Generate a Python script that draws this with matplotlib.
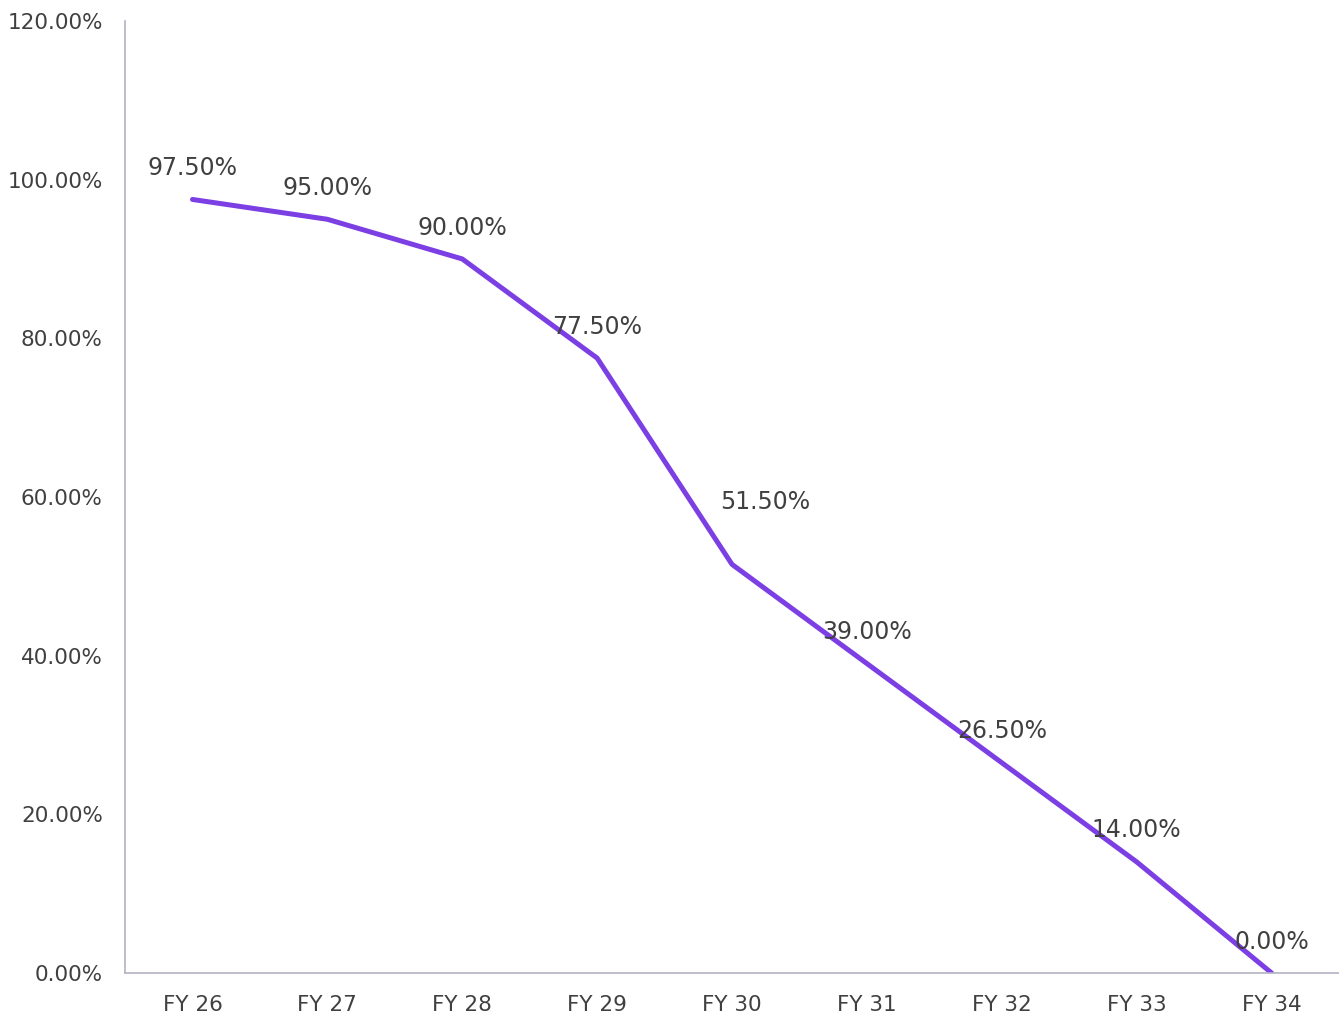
import matplotlib
matplotlib.use("Agg")
import matplotlib.pyplot as plt
from matplotlib.ticker import FuncFormatter

categories = ["FY 26", "FY 27", "FY 28", "FY 29", "FY 30", "FY 31", "FY 32", "FY 33", "FY 34"]
values = [97.5, 95.0, 90.0, 77.5, 51.5, 39.0, 26.5, 14.0, 0.0]
y_ticks = [0, 20, 40, 60, 80, 100, 120]

plt.rcParams['font.family'] = ['DejaVu Sans']
text_color = '#404040'
line_color = '#7B3FE4'
axis_color = '#B4B2C4'

fig = plt.figure(figsize=(13.39, 10.17), dpi=100)
ax = fig.add_axes([0.0934, 0.0433, 0.9066, 0.9361])

x = list(range(len(categories)))
ax.plot(x, values, color=line_color, linewidth=3.6, solid_capstyle='round', solid_joinstyle='round', zorder=2)

for i, (xi, v) in enumerate(zip(x, values)):
    off = (24, 36) if i == 4 else (0, 14)
    ax.annotate(f"{v:.2f}%", (xi, v), xytext=off, textcoords='offset points',
                ha='center', va='bottom', fontsize=17, color=text_color, zorder=3)

ax.set_xlim(-0.5, len(categories) - 0.5)
ax.set_ylim(0, 120)
ax.set_xticks(x)
ax.set_xticklabels(categories)
ax.set_yticks(y_ticks)
ax.yaxis.set_major_formatter(FuncFormatter(lambda v, p: f"{v:.2f}%"))

for s in ['top', 'right']:
    ax.spines[s].set_visible(False)
for s in ['left', 'bottom']:
    ax.spines[s].set_color(axis_color)
    ax.spines[s].set_linewidth(1.2)

ax.tick_params(axis='both', length=0, labelsize=15.5, colors=text_color)
ax.tick_params(axis='x', pad=16)
ax.tick_params(axis='y', pad=16)
ax.set_facecolor('white')
fig.patch.set_facecolor('white')

fig.savefig("out.png", dpi=100, facecolor='white')
